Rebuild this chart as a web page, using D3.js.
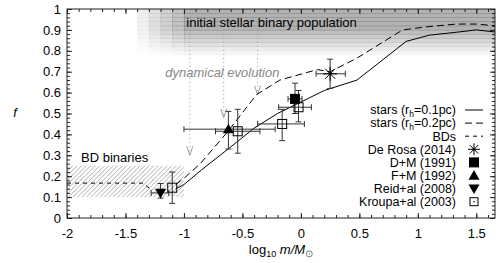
<!DOCTYPE html>
<meta charset="utf-8">
<style>
body { margin: 0; background: #fff; }
text { font-family: "Liberation Sans", Arial, sans-serif; font-size: 13px; fill: #000; }
</style>
<svg width="504" height="263"></svg>
<script src="https://d3js.org/d3.v7.min.js"></script>
<script>

// ---- data ----
var xTickVals = [-2, -1.5, -1, -0.5, 0, 0.5, 1, 1.5];
var xTickLabels = ["-2", "-1.5", "-1", "-0.5", "0", "0.5", "1", "1.5"];
var yTickVals = [0, 0.1, 0.2, 0.3, 0.4, 0.5, 0.6, 0.7, 0.8, 0.9, 1];
var yTickLabels = ["0", "0.1", "0.2", "0.3", "0.4", "0.5", "0.6", "0.7", "0.8", "0.9", "1"];

// stars, r_h = 0.1pc (solid)
var star1X = [-1.07, -1.0, -0.85, -0.6, -0.4, -0.2, 0.0, 0.2, 0.48, 0.9, 1.1, 1.35, 1.5, 1.66];
var star1F = [0.14, 0.16, 0.23, 0.34, 0.43, 0.5, 0.555, 0.61, 0.66, 0.845, 0.875, 0.89, 0.9, 0.89];
// stars, r_h = 0.2pc (dashed)
var star2X = [-1.07, -1.0, -0.86, -0.63, -0.38, -0.18, 0.14, 0.25, 0.48, 0.87, 1.08, 1.33, 1.5, 1.66];
var star2F = [0.16, 0.19, 0.26, 0.41, 0.59, 0.66, 0.71, 0.70, 0.765, 0.9, 0.915, 0.928, 0.928, 0.92];
// BDs (short dashes)
var bdX = [-2, -1.35, -1.28];
var bdF = [0.167, 0.167, 0.135];

// observations: x, f, x low, x high, f low, f high
var deRosa = [[0.25, 0.69, 0.13, 0.38, 0.62, 0.76]];
var dm1991 = [[-0.05, 0.57, -0.11, 0.01, 0.5, 0.645]];
var fm1992 = [[-0.62, 0.425, -1.0, -0.22, 0.33, 0.51]];
var reid2008 = [[-1.2, 0.12, -1.28, -1.13, 0.095, 0.165]];
var kroupa2003 = [
  [-1.1, 0.145, -1.1, -1.1, 0.07, 0.22],
  [-0.54, 0.415, -0.73, -0.35, 0.31, 0.52],
  [-0.16, 0.45, -0.37, 0.03, 0.37, 0.52],
  [-0.02, 0.53, -0.19, 0.09, 0.46, 0.61]
];

// "dynamical evolution" arrows: x and where they end
var evoX = [-0.95, -0.66, -0.37];
var evoTip = [0.30, 0.48, 0.59];
var evoStart = 0.9;

// shaded initial population band
var bandEdgesX = [-1.4, -1.3, -1.2, -1.1, -1.0, 1.66];
var bandShadeX = [0.2, 0.4, 0.6, 0.8, 1];
var bandEdgesF = [1, 0.98, 0.96, 0.94, 0.92, 0.9, 0.88, 0.86, 0.84, 0.82, 0.8, 0.78];
var bandShadeF = [1, 1, 1, 1, 1, 0.85, 0.7, 0.55, 0.4, 0.25, 0.12];

// hatched BD binary region
var bdBoxX = [-2, -1.0];
var bdBoxF = [0.1, 0.25];

// ---- layout ----
var svg = d3.select("svg");
var mLeft = 67, mRight = 495, mTop = 9, mBottom = 218;

var x = d3.scaleLinear().domain([-2, 1.66]).range([mLeft, mRight]);
var y = d3.scaleLinear().domain([0, 1]).range([mBottom, mTop]);

var defs = svg.append("defs");
defs.append("clipPath").attr("id", "plotclip")
  .append("rect").attr("x", mLeft).attr("y", mTop)
  .attr("width", mRight - mLeft).attr("height", mBottom - mTop);

var hatch = defs.append("pattern")
  .attr("id", "hatch")
  .attr("patternUnits", "userSpaceOnUse")
  .attr("width", 4.5).attr("height", 4.5);
hatch.append("path")
  .attr("d", "M-1,1 l2,-2 M0,4.5 l4.5,-4.5 M3.5,5.5 l2,-2")
  .style("stroke", "#888").style("stroke-width", 0.7);

var plot = svg.append("g").attr("clip-path", "url(#plotclip)");

// band
for (var i = 0; i < bandShadeX.length; i++) {
  for (var j = 0; j < bandShadeF.length; j++) {
    plot.append("rect")
      .attr("x", x(bandEdgesX[i]))
      .attr("width", x(bandEdgesX[i + 1]) - x(bandEdgesX[i]) + 0.5)
      .attr("y", y(bandEdgesF[j]))
      .attr("height", y(bandEdgesF[j + 1]) - y(bandEdgesF[j]) + 0.5)
      .style("fill", "#000")
      .style("opacity", 0.3 * bandShadeX[i] * bandShadeF[j]);
  }
}

// hatched region
plot.append("rect")
  .attr("x", x(bdBoxX[0])).attr("y", y(bdBoxF[1]))
  .attr("width", x(bdBoxX[1]) - x(bdBoxX[0]))
  .attr("height", y(bdBoxF[0]) - y(bdBoxF[1]))
  .style("fill", "url(#hatch)");

// texts
svg.append("text").attr("x", x(-0.98)).attr("y", y(0.915)).text("initial stellar binary population");
svg.append("text").attr("x", x(-1.88)).attr("y", y(0.27)).text("BD binaries");
svg.append("text").attr("x", x(-1.16)).attr("y", y(0.675))
  .style("fill", "#888").style("font-style", "italic").text("dynamical evolution");

// evolution arrows
evoX.forEach(function(ex, k) {
  plot.append("line")
    .attr("x1", x(ex)).attr("x2", x(ex))
    .attr("y1", y(evoStart)).attr("y2", y(evoTip[k]))
    .style("stroke", "#999").style("stroke-width", 1)
    .style("stroke-dasharray", "1,3");
  var tx = x(ex), ty = y(evoTip[k]);
  plot.append("path")
    .attr("d", "M" + (tx - 3) + "," + (ty - 9) + "L" + tx + "," + ty + "L" + (tx + 3) + "," + (ty - 9))
    .style("fill", "none").style("stroke", "#999").style("stroke-width", 1);
});

// curves
var line = d3.line().x(function(d) { return x(d[0]); }).y(function(d) { return y(d[1]); });
function drawCurve(xs, fs, dash) {
  plot.append("path")
    .datum(d3.zip(xs, fs))
    .attr("d", line)
    .style("fill", "none").style("stroke", "#000").style("stroke-width", 1)
    .style("stroke-dasharray", dash);
}
drawCurve(bdX, bdF, "4,4");
drawCurve(star1X, star1F, null);
drawCurve(star2X, star2F, "7,4");

// error bars
var errCol = "#333";
function errorBars(rows) {
  rows.forEach(function(r) {
    var cx = x(r[0]), cy = y(r[1]);
    if (r[3] > r[2]) {
      plot.append("line").attr("x1", x(r[2])).attr("x2", x(r[3])).attr("y1", cy).attr("y2", cy)
        .style("stroke", errCol);
      [r[2], r[3]].forEach(function(v) {
        plot.append("line").attr("x1", x(v)).attr("x2", x(v)).attr("y1", cy - 3).attr("y2", cy + 3)
          .style("stroke", errCol);
      });
    }
    plot.append("line").attr("x1", cx).attr("x2", cx).attr("y1", y(r[4])).attr("y2", y(r[5]))
      .style("stroke", errCol);
    [r[4], r[5]].forEach(function(v) {
      plot.append("line").attr("x1", cx - 3).attr("x2", cx + 3).attr("y1", y(v)).attr("y2", y(v))
        .style("stroke", errCol);
    });
  });
}

// marker shapes
function asterisk(g, cx, cy, s) {
  var d = "";
  [0, 45, 90, 135].forEach(function(a) {
    var dx = s * Math.cos(a * Math.PI / 180), dy = s * Math.sin(a * Math.PI / 180);
    d += "M" + (cx - dx) + "," + (cy - dy) + "L" + (cx + dx) + "," + (cy + dy);
  });
  g.append("path").attr("d", d).style("stroke", "#000").style("stroke-width", 1);
  g.append("circle").attr("cx", cx).attr("cy", cy).attr("r", 1.3).style("fill", "#000");
}
function square(g, cx, cy, s, filled) {
  g.append("rect").attr("x", cx - s).attr("y", cy - s).attr("width", 2 * s).attr("height", 2 * s)
    .style("fill", filled ? "#000" : "none").style("stroke", "#000").style("stroke-width", 1);
}
function triangle(g, cx, cy, s, down) {
  var k = down ? -1 : 1;
  g.append("path")
    .attr("d", "M" + cx + "," + (cy - k * s) + "L" + (cx + s) + "," + (cy + k * s * 0.75) +
      "L" + (cx - s) + "," + (cy + k * s * 0.75) + "Z")
    .style("fill", "#000");
}

errorBars(deRosa); errorBars(dm1991); errorBars(fm1992); errorBars(reid2008); errorBars(kroupa2003);

deRosa.forEach(function(r) { asterisk(plot, x(r[0]), y(r[1]), 7); });
dm1991.forEach(function(r) { square(plot, x(r[0]), y(r[1]), 4.5, true); });
fm1992.forEach(function(r) { triangle(plot, x(r[0]), y(r[1]), 5.5, false); });
reid2008.forEach(function(r) { triangle(plot, x(r[0]), y(r[1]), 5.5, true); });
kroupa2003.forEach(function(r) { square(plot, x(r[0]), y(r[1]), 4.5, false); });

// legend
var legendRows = [
  { label: ["stars (r", "h", "=0.1pc)"], kind: "line", dash: null },
  { label: ["stars (r", "h", "=0.2pc)"], kind: "line", dash: "7,4" },
  { label: ["BDs"], kind: "line", dash: "4,4" },
  { label: ["De Rosa (2014)"], kind: "asterisk" },
  { label: ["D+M (1991)"], kind: "fsquare" },
  { label: ["F+M (1992)"], kind: "tri" },
  { label: ["Reid+al (2008)"], kind: "dtri" },
  { label: ["Kroupa+al (2003)"], kind: "osquare" }
];
var legTextX = 456, legSymX = 474, legY0 = 110, legStep = 13.1;
var leg = svg.append("g");
legendRows.forEach(function(row, k) {
  var ly = legY0 + k * legStep;
  var t = leg.append("text").attr("x", legTextX).attr("y", ly + 4.3).attr("text-anchor", "end")
    .style("font-size", "12.5px");
  t.append("tspan").text(row.label[0]);
  if (row.label.length > 1) {
    t.append("tspan").attr("dy", 2.5).style("font-size", "8.5px").text(row.label[1]);
    t.append("tspan").attr("dy", -2.5).text(row.label[2]);
  }
  if (row.kind == "line") {
    leg.append("line").attr("x1", legSymX - 9).attr("x2", legSymX + 9).attr("y1", ly).attr("y2", ly)
      .style("stroke", "#000").style("stroke-dasharray", row.dash);
  } else if (row.kind == "asterisk") {
    asterisk(leg, legSymX, ly, 6);
  } else if (row.kind == "fsquare") {
    square(leg, legSymX, ly, 4.5, true);
  } else if (row.kind == "tri") {
    triangle(leg, legSymX, ly, 5.5, false);
  } else if (row.kind == "dtri") {
    triangle(leg, legSymX, ly, 5.5, true);
  } else {
    square(leg, legSymX, ly, 4, false);
    leg.append("circle").attr("cx", legSymX).attr("cy", ly).attr("r", 0.8).style("fill", "#000");
  }
});

// axes
var xMinor = d3.range(-20, 17).map(function(v) { return v / 10; });
var yMinor = d3.range(0, 51).map(function(v) { return v / 50; });

function axisGroup(ax, tx, ty) {
  var g = svg.append("g").attr("transform", "translate(" + tx + "," + ty + ")").call(ax);
  g.select(".domain").remove();
  g.selectAll("line").style("stroke", "#222");
  g.selectAll("text").style("font-family", "'Liberation Sans', Arial, sans-serif").style("font-size", "13px").style("fill", "#000");
  return g;
}
axisGroup(d3.axisBottom(x).tickValues(xTickVals).tickFormat(function(d, i) { return xTickLabels[i]; })
  .tickSize(-5).tickPadding(11), 0, mBottom);
axisGroup(d3.axisBottom(x).tickValues(xMinor).tickFormat("").tickSize(-3), 0, mBottom);
axisGroup(d3.axisTop(x).tickValues(xTickVals).tickFormat("").tickSize(-5), 0, mTop);
axisGroup(d3.axisTop(x).tickValues(xMinor).tickFormat("").tickSize(-3), 0, mTop);
axisGroup(d3.axisLeft(y).tickValues(yTickVals).tickFormat(function(d, i) { return yTickLabels[i]; })
  .tickSize(-5).tickPadding(6), mLeft, 0);
axisGroup(d3.axisLeft(y).tickValues(yMinor).tickFormat("").tickSize(-3), mLeft, 0);
axisGroup(d3.axisRight(y).tickValues(yTickVals).tickFormat("").tickSize(-5), mRight, 0);
axisGroup(d3.axisRight(y).tickValues(yMinor).tickFormat("").tickSize(-3), mRight, 0);

svg.append("rect").attr("x", mLeft).attr("y", mTop).attr("width", mRight - mLeft).attr("height", mBottom - mTop)
  .style("fill", "none").style("stroke", "#222").style("stroke-width", 1);

// axis titles
var xt = svg.append("text").attr("x", (mLeft + mRight) / 2).attr("y", 254).attr("text-anchor", "middle");
xt.append("tspan").text("log");
xt.append("tspan").attr("dy", 3).style("font-size", "9px").text("10");
xt.append("tspan").attr("dy", -3).text(" ");
xt.append("tspan").style("font-style", "italic").text("m/M");
xt.append("tspan").attr("dy", 3).style("font-size", "10px").style("fill", "#666").text("\u2299");

svg.append("text").attr("x", 15).attr("y", 117).attr("text-anchor", "middle")
  .style("font-style", "italic").text("f");

</script>
